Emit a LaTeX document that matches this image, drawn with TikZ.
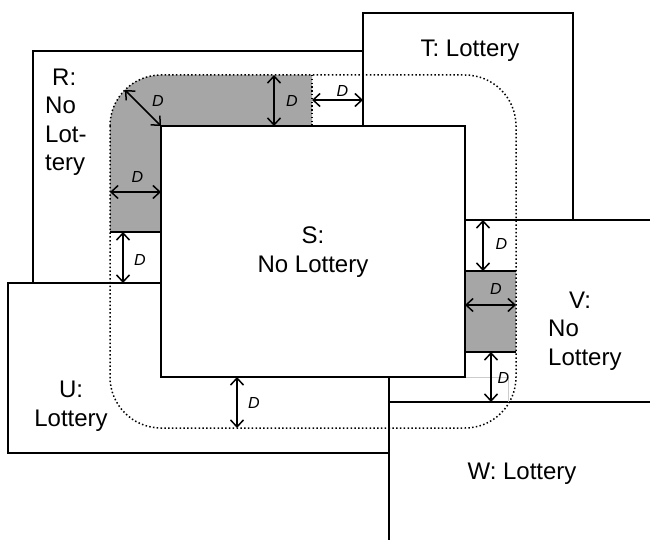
\documentclass[tikz,border=0pt]{standalone}
\usepackage{fontspec}
\setmainfont{Liberation Sans}
\usetikzlibrary{arrows.meta}

\definecolor{bandgray}{RGB}{166,166,166}

\begin{document}
\begin{tikzpicture}[
    x=1pt, y=-1pt,
    region/.style={
        draw,
        fill=white,
        line width=1.6pt
    },
    band/.style={fill=bandgray},
    edge/.style={line width=1.6pt},
    faint/.style={draw=gray!40, line width=0.6pt},
    reach/.style={
        line width=1.5pt,
        dash pattern=on 1.5pt off 2.3pt
    },
    dist/.style={
        {Straight Barb[length=7pt,width=13pt]}-{Straight Barb[length=7pt,width=13pt]},
        line width=1.5pt
    },
    place/.style={font=\fontsize{24}{28.5}\selectfont, inner sep=0pt},
    dlabel/.style={font=\fontsize{16}{18}\selectfont\itshape, inner sep=0pt}
]

\useasboundingbox (0,0) rectangle (650,540);
\clip (0,0) rectangle (650,540);

% neighbouring areas
\draw[region] (33,51) rectangle (363,283);
\draw[region] (8,283) rectangle (389,453);
\draw[region] (363,13) rectangle (573,220);
\fill[white] (465,220) rectangle (680,402);
\draw[edge] (465,220) -- (680,220) -- (680,402);
\draw[region] (389,402) rectangle (680,580);

% shaded bands
\fill[band] (110,232) -- (110,126) arc[start angle=180, end angle=90, radius=51pt]
    -- (312,75) -- (312,126) -- (161,126) -- (161,232) -- cycle;
\fill[band] (465,271) rectangle (516,352);

\draw[edge] (110,232) -- (161,232);
\draw[edge] (465,271) -- (516,271);
\draw[edge] (465,352) -- (516,352);
\draw[reach] (312,75) -- (312,126);
\draw[faint] (465,377) -- (508,377) -- (508,402);

% area S
\draw[region] (161,126) rectangle (465,377);
\coordinate (snw) at (161,126);

% reach of D around S
\draw[reach, rounded corners=51pt] (110,75) rectangle (516,428);

% distance arrows
\coordinate (topout) at (274,75);
\coordinate (topin) at (274,126);
\coordinate (cornerout) at (125,90);
\coordinate (leftout) at (110,192);
\coordinate (leftin) at (161,192);
\coordinate (tcellleft) at (312,100);
\coordinate (tcellright) at (363,100);
\coordinate (ucelltop) at (123,232);
\coordinate (ucellbot) at (123,283);
\coordinate (vcelltop) at (483,220);
\coordinate (vcellbot) at (483,271);
\coordinate (vbandin) at (465,305);
\coordinate (vbandout) at (516,305);
\coordinate (wcelltop) at (491,352);
\coordinate (wcellbot) at (491,402);
\coordinate (bottomin) at (237,377);
\coordinate (bottomout) at (237,428);

\draw[dist] (topout) -- (topin);
\draw[dist] (snw) -- (cornerout);
\draw[dist] (leftout) -- (leftin);
\draw[dist] (tcellleft) -- (tcellright);
\draw[dist] (ucelltop) -- (ucellbot);
\draw[dist] (vcelltop) -- (vcellbot);
\draw[dist] (vbandin) -- (vbandout);
\draw[dist] (wcelltop) -- (wcellbot);
\draw[dist] (bottomin) -- (bottomout);

\node[dlabel] (dtop) at (292,101) {D};
\node[dlabel] (dcorner) at (158,101) {D};
\node[dlabel] (dleft) at (137.5,176.5) {D};
\node[dlabel] (dtcell) at (342.5,91) {D};
\node[dlabel] (ducell) at (140,260) {D};
\node[dlabel] (dvcell) at (501.5,243.5) {D};
\node[dlabel] (dvband) at (496,288.5) {D};
\node[dlabel] (dwcell) at (503.5,378) {D};
\node[dlabel] (dbottom) at (254,402.5) {D};

% area names
\node[place, align=left, anchor=west] (rname) at (45,122) {\hspace*{7pt}R:\\No\\Lot-\\tery};
\node[place] (tname) at (470,50.5) {T: Lottery};
\node[place, align=center] (sname) at (313,252) {S:\\No Lottery};
\node[place, align=center] (uname) at (71,406) {U:\\Lottery};
\node[place, align=left, anchor=west] (vname) at (548,331) {\hspace*{21pt}V:\\No\\Lottery};
\node[place] (wname) at (522,474) {W: Lottery};

\end{tikzpicture}
\end{document}
